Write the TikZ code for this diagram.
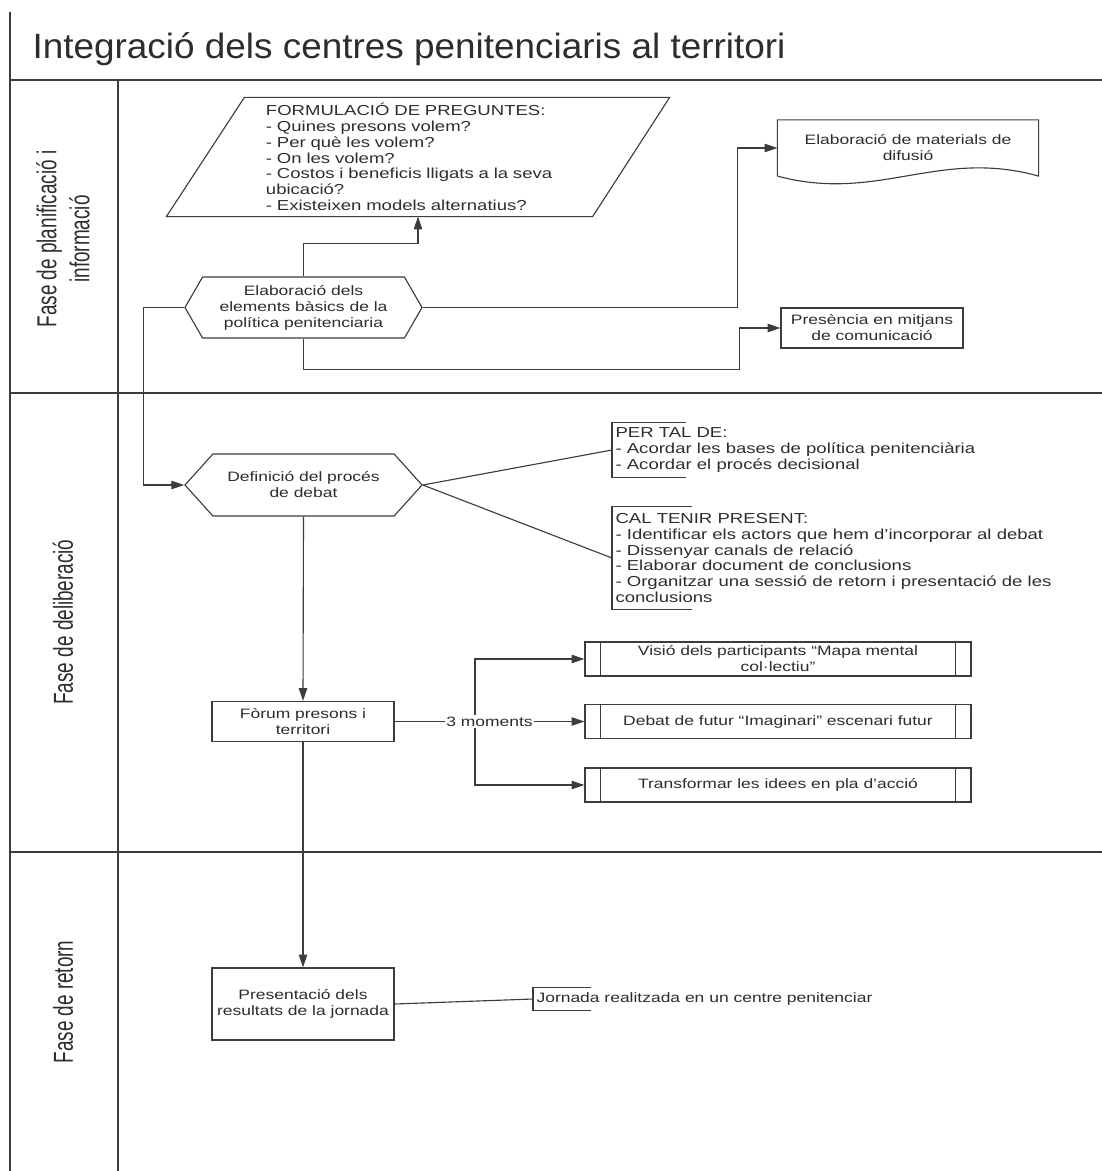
\documentclass[tikz,border=0pt]{standalone}
\usepackage{fontspec}
\setmainfont{Liberation Sans}[FakeStretch=1.28]
\newfontfamily\titlefont{Liberation Sans}[FakeStretch=1.05]
\newfontfamily\lanefont{Liberation Sans}[FakeStretch=0.69]
\usepackage{tikz}
\usetikzlibrary{shapes.symbols, arrows.meta, positioning, calc}
\definecolor{linegray}{RGB}{60, 60, 60}
\definecolor{textgray}{RGB}{45, 45, 45}
\newcommand{\boxfont}{\fontsize{9.7}{11.4}\selectfont}
\newcommand{\notefont}{\fontsize{10.3}{11.2}\selectfont}

\begin{document}
\begin{tikzpicture}[x=0.025cm, y=-0.025cm, line width=0.8pt, color=linegray,
  every node/.style={text=textgray},
  flowarrow/.style={-{Triangle[length=3.2mm, width=2.1mm]}},
  proc/.style={draw, rectangle, minimum width=4.55cm, minimum height=1cm, align=center, font=\boxfont, inner sep=1pt},
  hexa/.style={draw, signal, signal to=west and east, minimum width=5.925cm, minimum height=1.525cm, align=center, font=\boxfont, inner sep=0pt},
  subproc/.style={draw, rectangle, minimum width=9.65cm, minimum height=0.85cm, align=center, font=\boxfont, inner sep=1pt},
  note/.style={anchor=west, align=left, font=\notefont, inner xsep=0.075cm, inner ysep=0pt},
  lane/.style={rotate=90, align=center, font=\lanefont\fontsize{19.5}{23.5}\selectfont}]
  \useasboundingbox (0, 0) rectangle (1102, 1171);

  \draw (10, 12) -- (10, 1171);
  \draw (10, 80) -- (1102, 80);
  \draw (118, 80) -- (118, 1171);
  \draw (10, 393) -- (1102, 393);
  \draw (10, 852) -- (1102, 852);

  \node[anchor=base west, font=\titlefont\fontsize{25}{30}\selectfont, inner sep=0pt] (title) at (32, 58) {Integració dels centres penitenciaris al territori};

  \node[lane] (lane1) at (63, 239) {Fase de planificació i\\informació};
  \node[lane] (lane2) at (63, 622) {Fase de deliberació};
  \node[lane] (lane3) at (63, 1002) {Fase de retorn};

  \node[minimum width=12.55cm, minimum height=2.95cm, text width=7.6cm, align=left, font=\notefont, inner sep=0pt] (preg) at (418, 157) {FORMULACIÓ DE PREGUNTES:\\- Quines presons volem?\\- Per què les volem?\\- On les volem?\\- Costos i beneficis lligats a la seva\\ubicació?\\- Existeixen models alternatius?};
  \draw (preg.south west) -- ($(preg.north west)+(78, 0)$) -- (preg.north east) -- ($(preg.south east)+(-77, 0)$) -- cycle;

  \node[hexa, signal pointer angle=120] (elab) at (303.5, 307.5) {Elaboració dels\\elements bàsics de la\\política penitenciaria};

  \node[minimum width=6.5cm, minimum height=1.375cm, align=center, font=\boxfont, inner sep=0pt] (mat) at (908, 148) {Elaboració de materials de\\difusió};
  \draw (mat.south west) -- (mat.north west) -- (mat.north east) -- (mat.south east) .. controls +(-100, -28) and +(100, 27) .. (mat.south west);

  \node[proc] (medi) at (872, 328) {Presència en mitjans\\de comunicació};

  \draw[flowarrow] (elab.north) -- ++(0, -33) -| (preg.south);
  \draw[flowarrow] (elab.east) -| ($(mat.west)+(-40, 0)$) -- (mat.west);
  \draw[flowarrow] (elab.south) -- ++(0, 31) -| ($(medi.west)+(-41, 0)$) -- (medi.west);

  \node[hexa, signal pointer angle=96, minimum height=1.55cm] (defi) at (303.5, 485) {Definició del procés\\de debat};
  \draw[flowarrow] (elab.west) -- ++(-41, 0) |- (defi.west);

  \node[note, minimum height=1.35cm] (nota) at (612, 450) {PER TAL DE:\\- Acordar les bases de política penitenciària\\- Acordar el procés decisional};
  \draw ($(nota.north west)+(74, 0)$) -- (nota.north west) -- (nota.south west) -- ++(74, 0);
  \node[note, minimum height=2.55cm] (notb) at (612, 558) {CAL TENIR PRESENT:\\- Identificar els actors que hem d'incorporar al debat\\- Dissenyar canals de relació\\- Elaborar document de conclusions\\- Organitzar una sessió de retorn i presentació de les\\conclusions};
  \draw ($(notb.north west)+(80, 0)$) -- (notb.north west) -- (notb.south west) -- ++(80, 0);
  \draw (defi.east) -- (nota.west);
  \draw (defi.east) -- (notb.west);

  \node[proc] (foro) at (303, 721.5) {Fòrum presons i\\territori};
  \draw[flowarrow] (defi.south) -- (foro.north);

  \node[subproc] (mom1) at (778, 659) {Visió dels participants “Mapa mental\\col·lectiu”};
  \node[subproc] (mom2) at (778, 721.5) {Debat de futur “Imaginari” escenari futur};
  \node[subproc] (mom3) at (778, 785) {Transformar les idees en pla d’acció};
  \draw ([xshift=0.41cm]mom1.north west) -- ([xshift=0.41cm]mom1.south west);
  \draw ([xshift=-0.41cm]mom1.north east) -- ([xshift=-0.41cm]mom1.south east);
  \draw ([xshift=0.41cm]mom2.north west) -- ([xshift=0.41cm]mom2.south west);
  \draw ([xshift=-0.41cm]mom2.north east) -- ([xshift=-0.41cm]mom2.south east);
  \draw ([xshift=0.41cm]mom3.north west) -- ([xshift=0.41cm]mom3.south west);
  \draw ([xshift=-0.41cm]mom3.north east) -- ([xshift=-0.41cm]mom3.south east);

  \coordinate (fork) at (475, 721.5);
  \draw[flowarrow] (fork) |- (mom1.west);
  \draw[flowarrow] (fork) |- (mom3.west);
  \draw[flowarrow] (foro.east) -- node[fill=white, font=\boxfont, inner sep=1pt] (tres) {3 moments} (mom2.west);

  \node[proc, minimum height=1.8cm] (pres) at (303, 1004) {Presentació dels\\resultats de la jornada};
  \draw[flowarrow] (foro.south) -- (pres.north);

  \node[note, font=\boxfont, minimum height=0.55cm] (jorn) at (533, 999) {Jornada realitzada en un centre penitenciar};
  \draw ($(jorn.north west)+(58, 0)$) -- (jorn.north west) -- (jorn.south west) -- ++(58, 0);
  \draw (pres.east) -- (jorn.west);
\end{tikzpicture}
\end{document}
